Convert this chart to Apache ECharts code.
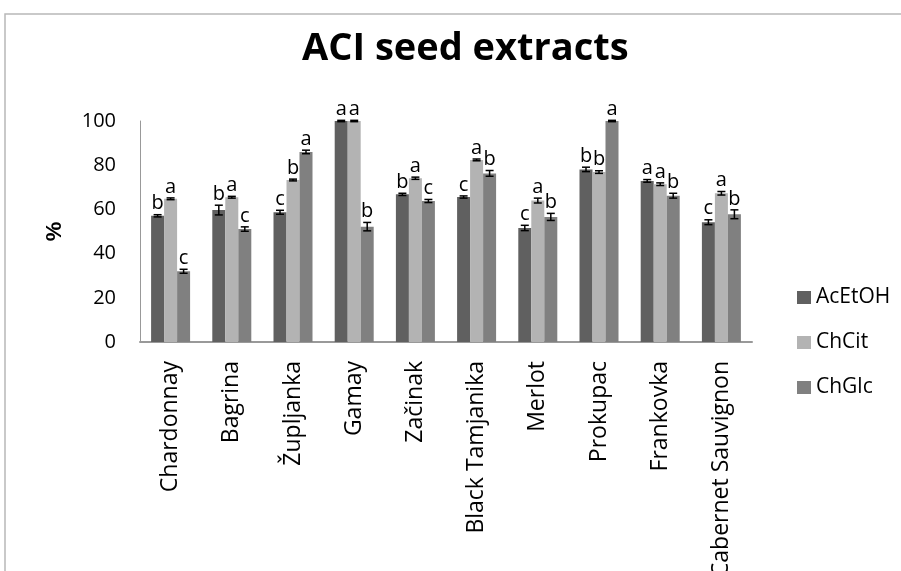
<!DOCTYPE html>
<html>
<head>
<meta charset="utf-8">
<script src="https://cdn.jsdelivr.net/npm/echarts@6/dist/echarts.min.js"></script>
<style>
html,body{margin:0;padding:0;background:#fff;}
#main{width:901px;height:571px;}
</style>
</head>
<body>
<div id="main"></div>
<script>
var categories = ['Chardonnay', 'Bagrina', 'Župljanka', 'Gamay', 'Začinak', 'Black Tamjanika', 'Merlot', 'Prokupac', 'Frankovka', 'Cabernet Sauvignon'];
var seriesNames = ['AcEtOH', 'ChCit', 'ChGlc'];
var colors = ['#606060', '#b3b3b3', '#808080'];

var acetoh = [57.1, 59.7, 58.7, 100, 66.8, 65.6, 51.6, 78.1, 72.9, 54.2];
var chcit = [64.8, 65.5, 73.3, 100, 74.1, 82.4, 64.0, 76.9, 71.4, 67.3];
var chglc = [32.0, 51.1, 86.0, 52.2, 63.8, 76.3, 56.6, 100, 66.2, 57.8];

var acetohErr = [0.5, 2.2, 0.9, 0.3, 0.5, 0.5, 1.2, 1.0, 0.6, 1.1];
var chcitErr = [0.4, 0.4, 0.4, 0.3, 0.5, 0.4, 1.1, 0.6, 0.6, 0.8];
var chglcErr = [0.9, 1.0, 0.8, 1.9, 0.7, 1.3, 1.6, 0.3, 1.1, 2.0];

var acetohLetters = ['b', 'b', 'c', 'a', 'b', 'c', 'c', 'b', 'a', 'c'];
var chcitLetters = ['a', 'a', 'b', 'a', 'a', 'a', 'a', 'b', 'a', 'a'];
var chglcLetters = ['c', 'c', 'a', 'b', 'c', 'b', 'b', 'a', 'b', 'b'];

var values = [acetoh, chcit, chglc];
var errs = [acetohErr, chcitErr, chglcErr];
var letters = [acetohLetters, chcitLetters, chglcLetters];

var barW = 13;
var labelFont = '"Open Sans", "DejaVu Sans", sans-serif';

var chart = echarts.init(document.getElementById('main'));

var series = [];
for (var s = 0; s < 3; s++) {
	series.push({
		name: seriesNames[s],
		type: 'bar',
		barWidth: barW,
		barGap: '0%',
		itemStyle: { color: colors[s] },
		data: values[s]
	});
}
for (var s = 0; s < 3; s++) {
	(function(s) {
		var d = [];
		for (var i = 0; i < categories.length; i++) {
			d.push([i, values[s][i], errs[s][i], letters[s][i]]);
		}
		series.push({
			type: 'custom',
			z: 10,
			silent: true,
			data: d,
			renderItem: function(params, api) {
				var i = api.value(0);
				var v = api.value(1);
				var e = api.value(2);
				var off = (s - 1) * barW;
				var hi = api.coord([i, v + e]);
				var lo = api.coord([i, v - e]);
				var x = hi[0] + off;
				var cap = 4;
				var st = { stroke: '#000', lineWidth: 1.5 };
				return {
					type: 'group',
					children: [
						{ type: 'line', shape: { x1: x, y1: hi[1], x2: x, y2: lo[1] }, style: st },
						{ type: 'line', shape: { x1: x - cap, y1: hi[1], x2: x + cap, y2: hi[1] }, style: st },
						{ type: 'line', shape: { x1: x - cap, y1: lo[1], x2: x + cap, y2: lo[1] }, style: st },
						{ type: 'text', style: {
							text: letters[s][i], x: x, y: hi[1] - 1,
							textAlign: 'center', textVerticalAlign: 'bottom',
							font: '20px ' + labelFont, fill: '#000'
						} }
					]
				};
			}
		});
	})(s);
}

var option = {
	animation: false,
	backgroundColor: '#fff',
	legend: {
		orient: 'vertical',
		left: 792,
		top: 282,
		itemWidth: 14,
		itemHeight: 13,
		itemGap: 24,
		icon: 'rect',
		data: seriesNames,
		textStyle: { fontSize: 21, color: '#000', fontFamily: labelFont }
	},
	graphic: [{
		type: 'polyline',
		shape: { points: [[5, 600], [5, 14], [920, 14]] },
		style: { stroke: '#b8b8b8', lineWidth: 1.5, fill: null }
	}, {
		type: 'text',
		left: 302,
		top: 30,
		style: {
			text: 'ACI seed extracts',
			font: 'bold 38px "Open Sans", sans-serif',
			fill: '#000'
		}
	}],
	grid: { left: 140, right: 149, top: 121, bottom: 229, outerBoundsMode: 'none' },
	xAxis: {
		type: 'category',
		data: categories,
		axisLine: { lineStyle: { color: '#999', width: 2 } },
		axisTick: { show: false },
		axisLabel: { rotate: 90, interval: 0, fontSize: 23, color: '#000', margin: 19, fontFamily: labelFont }
	},
	yAxis: {
		type: 'value',
		min: 0,
		max: 100,
		interval: 20,
		name: '%',
		nameLocation: 'middle',
		nameGap: 74,
		nameRotate: 90,
		nameTextStyle: { fontSize: 22, fontWeight: 'bold', color: '#000' },
		axisLine: { show: true, lineStyle: { color: '#999', width: 1 } },
		axisTick: { show: false },
		splitLine: { show: false },
		axisLabel: { fontSize: 20, color: '#000', margin: 24, fontFamily: labelFont }
	},
	series: series
};
chart.setOption(option);
</script>
</body>
</html>
